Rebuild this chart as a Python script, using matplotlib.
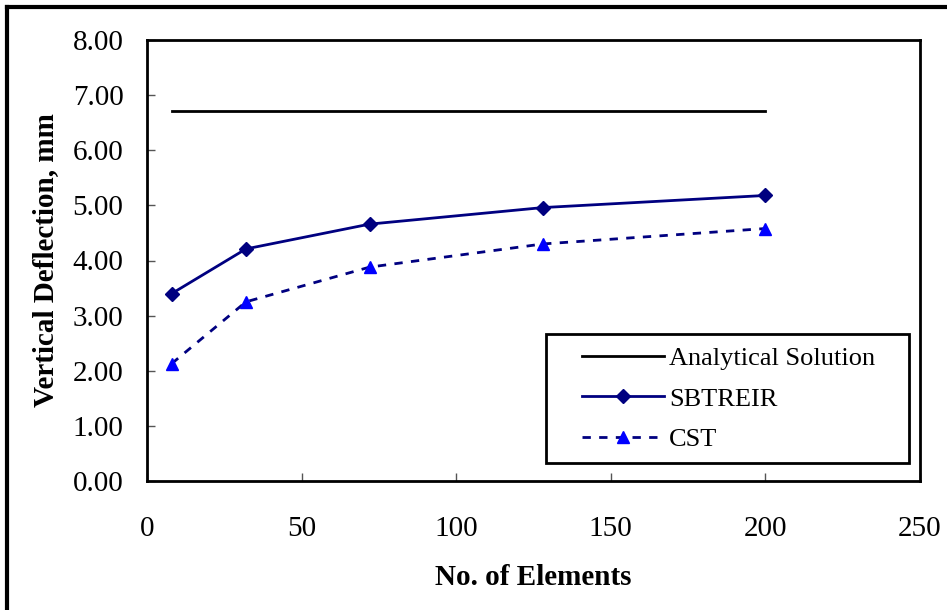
import matplotlib
matplotlib.use('Agg')
import matplotlib.pyplot as plt
from matplotlib.lines import Line2D
from matplotlib.patches import Rectangle

# data
elements = [8, 32, 72, 128, 200]
sbtreir = [3.40, 4.21, 4.66, 4.96, 5.18]
cst = [2.13, 3.25, 3.88, 4.30, 4.58]
analytical_x = [8, 200]
analytical = [6.72, 6.72]

x_ticks = [0, 50, 100, 150, 200, 250]
y_ticks = [0, 1, 2, 3, 4, 5, 6, 7, 8]

plt.rcParams['font.family'] = ['Liberation Serif', 'DejaVu Serif']

fig = plt.figure(figsize=(9.47, 6.10), dpi=100)
ax = fig.add_axes([147/947, 1 - 481/610, 773/947, 441/610])

ax.plot(analytical_x, analytical, color='black', lw=2, label='Analytical Solution')
ax.plot(elements, sbtreir, color='#000080', lw=2, marker='D', markersize=7,
        markerfacecolor='#000080', markeredgecolor='#000080', label='SBTREIR')
ax.plot(elements, cst, color='#000080', lw=2, linestyle=(0, (3, 3)), marker='^', markersize=9,
        markerfacecolor='#0000FF', markeredgecolor='#0000FF', label='CST')

ax.set_xlim(0, 250)
ax.set_ylim(0, 8)
ax.set_xticks(x_ticks)
ax.set_yticks(y_ticks)
ax.set_yticklabels(['%.2f' % v for v in y_ticks])
ax.tick_params(direction='in', length=6, width=1, color='#555555', labelsize=21)
ax.tick_params(axis='x', pad=25)
ax.tick_params(axis='y', pad=17)
for s in ax.spines.values():
    s.set_linewidth(2)

ax.set_xlabel('No. of Elements', fontsize=21, fontweight='bold', labelpad=16)
ax.set_ylabel('Vertical Deflection, mm', fontsize=21, fontweight='bold', labelpad=10)

# legend box drawn separately so the padding matches
ax.add_patch(Rectangle((0.516, 0.041), 0.47, 0.292, transform=ax.transAxes,
                       fill=False, edgecolor='black', lw=2, zorder=4))
leg = ax.legend(loc='center left', bbox_to_anchor=(0.563, 0.186), fontsize=19,
                frameon=False, handlelength=3.1, labelspacing=0.65,
                borderpad=0, handletextpad=0.2, borderaxespad=0)

# outer frame (top and left edges visible)
fig.add_artist(Line2D([7/947, 1], [1 - 7/610, 1 - 7/610], color='black', lw=3, transform=fig.transFigure))
fig.add_artist(Line2D([7/947, 7/947], [0, 1 - 7/610], color='black', lw=3, transform=fig.transFigure))

fig.savefig('out.png', dpi=100)
